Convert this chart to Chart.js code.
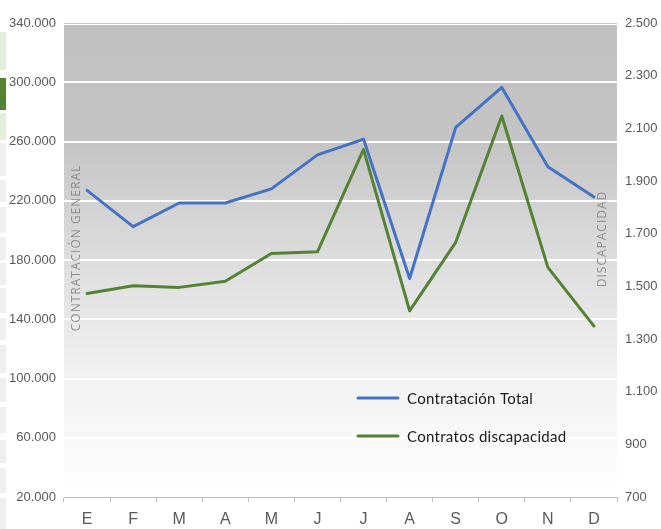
<!DOCTYPE html>
<html>
<head>
<meta charset="utf-8">
<script src="https://cdn.jsdelivr.net/npm/chart.js@4.4.1/dist/chart.umd.min.js"></script>
<style>
  html, body { margin: 0; padding: 0; background: #ffffff; }
  #wrap { position: relative; width: 661px; height: 529px; overflow: hidden; }
  canvas { position: absolute; left: 0; top: 0; }
  .cell { position: absolute; left: 0; width: 6px; background: #efefef; }
</style>
</head>
<body>
<div id="wrap">
  <div class="cell" style="top:32px;height:38px;background:#e2efda"></div>
  <div class="cell" style="top:78px;height:32px;background:#548235"></div>
  <div class="cell" style="top:113px;height:27px;background:#e2efda"></div>
  <div class="cell" style="top:143px;height:33px"></div>
  <div class="cell" style="top:180px;height:22px"></div>
  <div class="cell" style="top:207px;height:26px"></div>
  <div class="cell" style="top:237px;height:23px"></div>
  <div class="cell" style="top:263px;height:22px"></div>
  <div class="cell" style="top:288px;height:25px"></div>
  <div class="cell" style="top:318px;height:22px"></div>
  <div class="cell" style="top:345px;height:28px"></div>
  <div class="cell" style="top:378px;height:24px"></div>
  <div class="cell" style="top:407px;height:26px"></div>
  <div class="cell" style="top:440px;height:23px"></div>
  <div class="cell" style="top:468px;height:25px"></div>
  <div class="cell" style="top:498px;height:31px"></div>
  <canvas id="c" width="661" height="529"></canvas>
</div>
<script>
// ---- data ----
const months = ['E', 'F', 'M', 'A', 'M', 'J', 'J', 'A', 'S', 'O', 'N', 'D'];
const contratacionTotal = [227000, 202500, 218500, 218500, 228000, 251000, 261500, 167500, 269500, 296500, 243000, 222500];
const contratosDiscapacidad = [1473, 1502, 1496, 1519, 1625, 1631, 2020, 1407, 1667, 2147, 1572, 1349];
const seriesNames = ['Contratación Total', 'Contratos discapacidad'];
const leftAxisTitle = 'CONTRATACIÓN GENERAL';
const rightAxisTitle = 'DISCAPACIDAD';

function fmt(v) {
  return String(Math.round(v)).replace(/\B(?=(\d{3})+(?!\d))/g, '.');
}

const tickFamily = '"Liberation Sans", Arial, sans-serif';

const bgPlugin = {
  id: 'bg',
  beforeDraw(chart) {
    const { ctx, chartArea: a } = chart;
    const g = ctx.createLinearGradient(0, a.top, 0, a.bottom);
    g.addColorStop(0, 'rgb(192,192,192)');
    g.addColorStop(0.25, 'rgb(196,196,196)');
    g.addColorStop(0.5, 'rgb(221,221,221)');
    g.addColorStop(0.75, 'rgb(242,242,242)');
    g.addColorStop(1, 'rgb(255,255,255)');
    ctx.save();
    ctx.fillStyle = g;
    ctx.fillRect(a.left, a.top + 2, a.right - a.left, a.bottom - a.top - 2);
    ctx.restore();
  }
};

const titlesPlugin = {
  id: 'axisTitlesInside',
  beforeDatasetsDraw(chart) {
    const { ctx, chartArea: a } = chart;
    const draw = (text, x, y) => {
      ctx.save();
      ctx.fillStyle = '#8c8c8c';
      ctx.font = '12px "Open Sans"';
      try { ctx.letterSpacing = '1px'; } catch (e) {}
      ctx.textAlign = 'center';
      ctx.textBaseline = 'middle';
      ctx.translate(x, y);
      ctx.rotate(-Math.PI / 2);
      ctx.fillText(text, 0, 0);
      ctx.restore();
    };
    draw(leftAxisTitle, a.left + 13, 248);
    draw(rightAxisTitle, a.right - 14, 239);
  }
};

const legendPlugin = {
  id: 'innerLegend',
  afterDatasetsDraw(chart) {
    const { ctx } = chart;
    const ds = chart.data.datasets;
    ctx.save();
    ds.forEach((d, i) => {
      const y = 398 + i * 38;
      ctx.strokeStyle = d.borderColor;
      ctx.lineWidth = 3;
      ctx.lineCap = 'round';
      ctx.beginPath();
      ctx.moveTo(358, y);
      ctx.lineTo(398, y);
      ctx.stroke();
      ctx.fillStyle = '#1a1a1a';
      ctx.font = '15px Lato';
      try { ctx.letterSpacing = '0.3px'; } catch (e) {}
      ctx.textAlign = 'left';
      ctx.textBaseline = 'middle';
      ctx.fillText(d.label, 407, y + 1);
    });
    ctx.restore();
  }
};

new Chart(document.getElementById('c'), {
  type: 'line',
  data: {
    labels: months,
    datasets: [
      {
        label: seriesNames[0],
        data: contratacionTotal,
        yAxisID: 'y',
        borderColor: '#4472c4',
        borderWidth: 3,
        pointRadius: 0,
        tension: 0,
        borderJoinStyle: 'round',
        borderCapStyle: 'round',
        order: 1
      },
      {
        label: seriesNames[1],
        data: contratosDiscapacidad,
        yAxisID: 'y1',
        borderColor: '#548235',
        borderWidth: 3,
        pointRadius: 0,
        tension: 0,
        borderJoinStyle: 'round',
        borderCapStyle: 'round',
        order: 0
      }
    ]
  },
  options: {
    responsive: false,
    animation: false,
    events: [],
    layout: { padding: { top: 23, left: 0, right: 0, bottom: 0 } },
    plugins: { legend: { display: false }, tooltip: { enabled: false }, title: { display: false } },
    scales: {
      x: {
        offset: true,
        grid: { offset: true, drawOnChartArea: false, drawTicks: true, tickLength: 5, color: '#bfbfbf' },
        border: { display: true, color: '#bfbfbf', width: 1 },
        ticks: { color: '#595959', font: { family: tickFamily, size: 16 }, padding: 8, maxRotation: 0 },
        afterFit(s) { s.height = 32; }
      },
      y: {
        position: 'left',
        min: 20000,
        max: 340000,
        ticks: { stepSize: 40000, color: '#595959', padding: 8, font: { family: tickFamily, size: 13 }, callback: v => fmt(v) },
        grid: {
          drawTicks: false,
          color: ctx => (ctx.tick && ctx.tick.value === 340000) ? '#c8c8c8' : '#ffffff',
          lineWidth: ctx => (ctx.tick && ctx.tick.value === 340000) ? 1 : 2
        },
        border: { display: false },
        afterFit(s) { s.width = 64; }
      },
      y1: {
        position: 'right',
        min: 700,
        max: 2500,
        ticks: { stepSize: 200, color: '#595959', padding: 8, font: { family: tickFamily, size: 13 }, callback: v => fmt(v) },
        grid: { drawOnChartArea: false, drawTicks: false },
        border: { display: false },
        afterFit(s) { s.width = 44; }
      }
    }
  },
  plugins: [bgPlugin, titlesPlugin, legendPlugin]
});
</script>
</body>
</html>
